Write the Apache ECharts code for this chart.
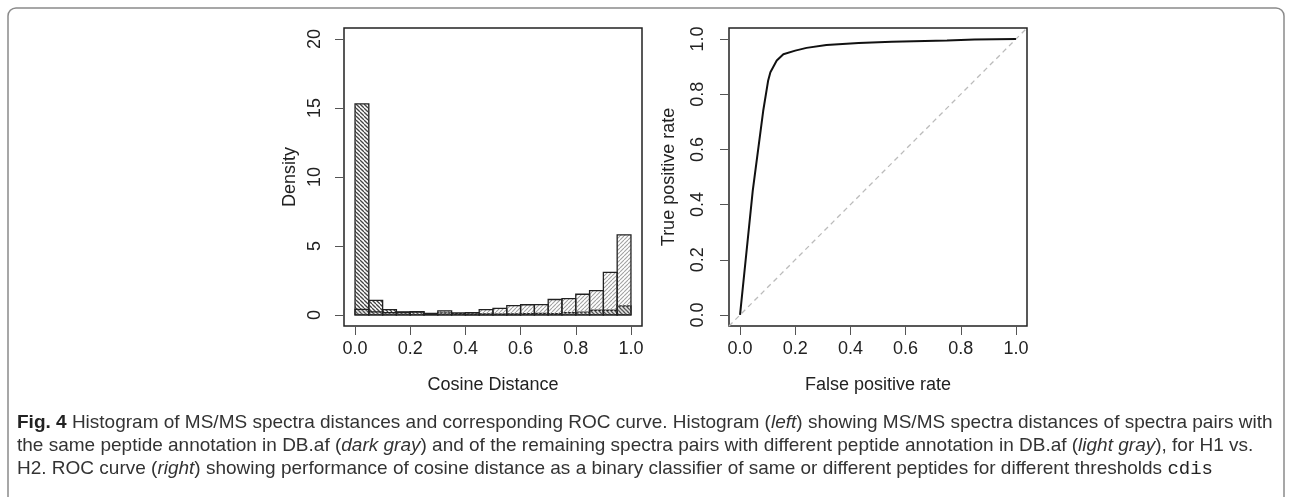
<!DOCTYPE html>
<html>
<head>
<meta charset="utf-8">
<script src="https://cdn.jsdelivr.net/npm/echarts@6/dist/echarts.min.js"></script>
<style>
  html, body { margin: 0; padding: 0; background: #fff; }
  #main { width: 1292px; height: 497px; }
</style>
</head>
<body>
<div id="main"></div>
<script>
// histogram bins (left edges, width 0.05)
const binLeft = [0.00, 0.05, 0.10, 0.15, 0.20, 0.25, 0.30, 0.35, 0.40, 0.45,
                 0.50, 0.55, 0.60, 0.65, 0.70, 0.75, 0.80, 0.85, 0.90, 0.95];
const binWidth = 0.05;
// same peptide annotation (dark gray)
const sameDensity = [15.3, 1.06, 0.39, 0.22, 0.24, 0.12, 0.15, 0.1, 0.08, 0.08,
                     0.07, 0.08, 0.1, 0.12, 0.1, 0.17, 0.2, 0.34, 0.34, 0.65];
// different peptide annotation (light gray)
const diffDensity = [0.4, 0.22, 0.17, 0.18, 0.2, 0.1, 0.3, 0.15, 0.17, 0.39,
                     0.48, 0.68, 0.74, 0.75, 1.12, 1.18, 1.5, 1.77, 3.08, 5.81];
const histTicksX = [0, 0.2, 0.4, 0.6, 0.8, 1.0];
const histTicksY = [0, 5, 10, 15, 20];

// ROC curve
const rocFpr = [0, 0.003, 0.046, 0.084, 0.102, 0.11, 0.133, 0.157, 0.2, 0.241, 0.313, 0.43, 0.55, 0.75, 0.85, 1.0];
const rocTpr = [0, 0.007, 0.45, 0.74, 0.85, 0.88, 0.922, 0.945, 0.958, 0.968, 0.978, 0.986, 0.99, 0.995, 0.998, 1.0];
const rocTicks = [0, 0.2, 0.4, 0.6, 0.8, 1.0];

// hatch pattern tiles
function hatch(color, size, width, backslash) {
  const c = document.createElement('canvas');
  c.width = size; c.height = size;
  const g = c.getContext('2d');
  g.strokeStyle = color;
  g.lineWidth = width;
  for (let k = -size; k <= size; k += size) {
    g.beginPath();
    if (backslash) { g.moveTo(k, 0); g.lineTo(k + size, size); }
    else { g.moveTo(k + size, 0); g.lineTo(k, size); }
    g.stroke();
  }
  return { image: c, repeat: 'repeat' };
}
const darkHatch = hatch('#444', 4, 1.3, true);
const lightHatch = hatch('#a0a0a0', 4, 1.1, false);

function histRender(pattern) {
  return function (params, api) {
    const p0 = api.coord([api.value(0), 0]);
    const p1 = api.coord([api.value(1), api.value(2)]);
    return {
      type: 'rect',
      shape: { x: p0[0], y: p1[1], width: p1[0] - p0[0], height: p0[1] - p1[1] },
      style: { fill: pattern, stroke: '#222', lineWidth: 1.3 }
    };
  };
}

const sameData = binLeft.map((b, i) => [b, b + binWidth, sameDensity[i]]);
const diffData = binLeft.map((b, i) => [b, b + binWidth, diffDensity[i]]);
const rocData = rocFpr.map((x, i) => [x, rocTpr[i]]);

const txt = '#222';
const font = 'Liberation Sans, Arial, Helvetica, sans-serif';

function xAxisCfg(grid, min, max, ticks, name) {
  return {
    gridIndex: grid, type: 'value', min: min, max: max,
    axisLine: { show: false, onZero: false },
    splitLine: { show: false },
    axisTick: { show: true, inside: false, customValues: ticks, length: 9, lineStyle: { color: '#555', width: 1 } },
    axisLabel: { customValues: ticks, margin: 14, fontSize: 18, color: txt, fontFamily: font,
                 formatter: v => v.toFixed(1) },
    name: name, nameLocation: 'middle', nameGap: 50,
    nameTextStyle: { fontSize: 18, color: txt, fontFamily: font }
  };
}
function yAxisCfg(grid, min, max, ticks, name, fmt, margin, nameGap) {
  return {
    gridIndex: grid, type: 'value', min: min, max: max,
    axisLine: { show: false, onZero: false },
    splitLine: { show: false },
    axisTick: { show: true, inside: false, customValues: ticks, length: 9, lineStyle: { color: '#555', width: 1 } },
    axisLabel: { customValues: ticks, margin: margin, rotate: 90, fontSize: 18, color: txt, fontFamily: font,
                 formatter: fmt },
    name: name, nameLocation: 'middle', nameGap: nameGap, nameRotate: 90,
    nameTextStyle: { fontSize: 18, color: txt, fontFamily: font }
  };
}

const capFont = 19;
const capStyle = {
  fontSize: capFont, fontFamily: font, fill: '#333',
  rich: {
    b: { fontWeight: 'bold', fontSize: capFont, fontFamily: font, fill: '#222' },
    i: { fontStyle: 'italic', fontSize: capFont, fontFamily: font, fill: '#333' },
    m: { fontFamily: 'Liberation Mono, DejaVu Sans Mono, monospace', fontSize: capFont, fill: '#222' }
  }
};
const capLines = [
  '{b|Fig. 4} Histogram of MS/MS spectra distances and corresponding ROC curve. Histogram ({i|left}) showing MS/MS spectra distances of spectra pairs with',
  'the same peptide annotation in DB.af ({i|dark gray}) and of the remaining spectra pairs with different peptide annotation in DB.af ({i|light gray}), for H1 vs.',
  'H2. ROC curve ({i|right}) showing performance of cosine distance as a binary classifier of same or different peptides for different thresholds {m|cdis}'
];
const capY = [423, 446, 469];

const chart = echarts.init(document.getElementById('main'), null, { renderer: 'canvas' });
chart.setOption({
  backgroundColor: '#fff',
  animation: false,
  grid: [
    { left: 344, top: 28, width: 298, height: 298, show: true, borderColor: '#222', borderWidth: 1.5, backgroundColor: 'transparent' },
    { left: 729, top: 28, width: 298, height: 298, show: true, borderColor: '#222', borderWidth: 1.5, backgroundColor: 'transparent' }
  ],
  xAxis: [
    xAxisCfg(0, -0.04, 1.04, histTicksX, 'Cosine Distance'),
    xAxisCfg(1, -0.04, 1.04, rocTicks, 'False positive rate')
  ],
  yAxis: [
    yAxisCfg(0, -0.8, 20.8, histTicksY, 'Density', v => String(v), 20, 45),
    yAxisCfg(1, -0.04, 1.04, rocTicks, 'True positive rate', v => v.toFixed(1), 22, 51)
  ],
  series: [
    { type: 'custom', name: 'same', xAxisIndex: 0, yAxisIndex: 0, data: sameData,
      renderItem: histRender(darkHatch), encode: { x: [0, 1], y: 2 }, z: 2, silent: true },
    { type: 'custom', name: 'different', xAxisIndex: 0, yAxisIndex: 0, data: diffData,
      renderItem: histRender(lightHatch), encode: { x: [0, 1], y: 2 }, z: 3, silent: true },
    { type: 'line', xAxisIndex: 1, yAxisIndex: 1, data: [[-0.04, -0.04], [1.04, 1.04]],
      symbol: 'none', lineStyle: { color: '#bbb', width: 1.3, type: [5, 4] }, z: 2, silent: true },
    { type: 'line', xAxisIndex: 1, yAxisIndex: 1, data: rocData,
      symbol: 'none', lineStyle: { color: '#111', width: 2 }, z: 3, silent: true }
  ],
  graphic: [
    { type: 'rect', shape: { x: 8, y: 8, width: 1276, height: 620, r: 8 },
      style: { fill: 'none', stroke: '#8a8a8a', lineWidth: 1.5 }, silent: true }
  ].concat(capLines.map((t, i) => ({
    type: 'text', x: 17, y: capY[i],
    style: Object.assign({ text: t, textVerticalAlign: 'middle', verticalAlign: 'middle' }, capStyle),
    silent: true
  })))
});
</script>
</body>
</html>
